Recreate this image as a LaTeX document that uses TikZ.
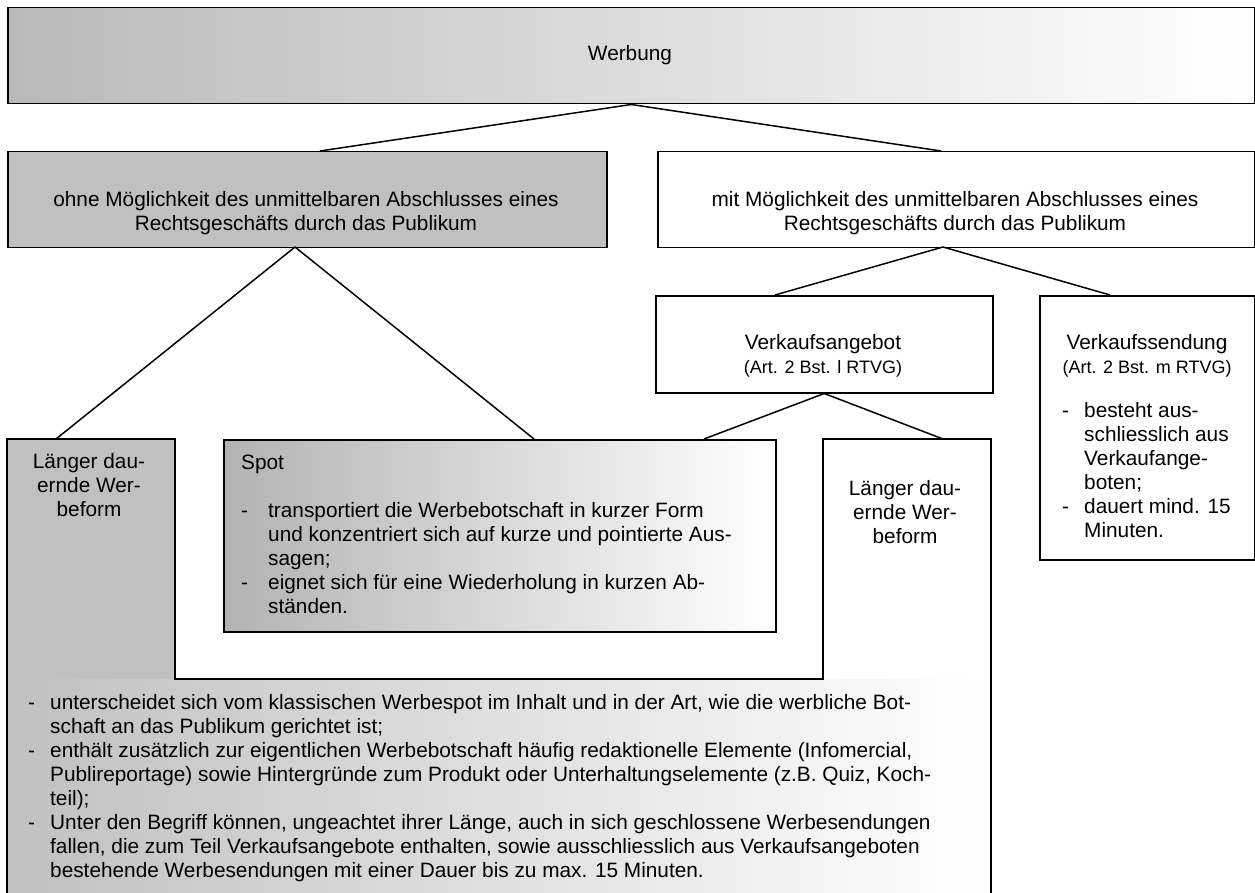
\documentclass[tikz,border=0pt]{standalone}
\usepackage{fontspec}
\setmainfont{Liberation Sans}
\definecolor{boxgray}{RGB}{192,192,192}
\begin{document}
\begin{tikzpicture}[x=1pt,y=-1pt,
  box/.style={draw,line width=1.5pt,inner sep=0pt,anchor=north west},
  con/.style={line width=1.5pt},
  txt/.style={inner sep=0pt,align=center,font=\fontsize{20.8}{24}\selectfont},
  lst/.style={inner sep=0pt,align=left,anchor=north west,font=\fontsize{20.8}{24}\selectfont}]
\useasboundingbox (0,0) rectangle (1255,893);
\node[box,minimum width=1247pt,minimum height=96pt,left color=gray!55,right color=white] (werbung) at (7,7) {};
\node[box,minimum width=599pt,minimum height=96pt,fill=boxgray] (ohne) at (7,151) {};
\node[box,minimum width=597pt,minimum height=96pt] (mit) at (657,151) {};
\node[box,minimum width=337pt,minimum height=97pt] (angebot) at (655,295) {};
\node[box,minimum width=215pt,minimum height=264pt] (sendung) at (1039,295) {};
\fill[boxgray] (7,439) rectangle (175,679);
\shade[left color=boxgray,right color=white] (7,679) rectangle (991,900);
\draw[con] (7,900) -- (7,439) -- (175,439) -- (175,679) -- (823,679) -- (823,439) -- (991,439) -- (991,900);
\node[box,minimum width=552pt,minimum height=192pt,left color=gray!60,right color=white] (spot) at (223,439) {};
\coordinate (ohneIn) at (320,151);
\coordinate (mitIn) at (941,151);
\coordinate (ohneOut) at (295,247);
\coordinate (mitOut) at (943,247);
\coordinate (langA) at (56,439);
\coordinate (spotA) at (534,439);
\coordinate (spotB) at (704,439);
\coordinate (langB) at (943,439);
\coordinate (angebotIn) at (775,295);
\coordinate (sendungIn) at (1110,295);
\draw[con] (werbung.south) -- (ohneIn);
\draw[con] (werbung.south) -- (mitIn);
\draw[con] (ohneOut) -- (langA);
\draw[con] (ohneOut) -- (spotA);
\draw[con] (mitOut) -- (angebotIn);
\draw[con] (mitOut) -- (sendungIn);
\draw[con] (angebot.south) -- (spotB);
\draw[con] (angebot.south) -- (langB);
\node[txt] (t0) at (630,55) {Werbung};
\node[txt] (t1) at (306,213) {ohne Möglichkeit des unmittelbaren Abschlusses eines\\Rechtsgeschäfts durch das Publikum};
\node[txt] (t2) at (955,213) {mit Möglichkeit des unmittelbaren Abschlusses eines\\Rechtsgeschäfts durch das Publikum};
\node[txt] (t3) at (823,356) {Verkaufsangebot\\{\fontsize{18}{20}\selectfont (Art. 2 Bst. l RTVG)}};
\node[txt] (t4) at (1147,356) {Verkaufssendung\\{\fontsize{18}{20}\selectfont (Art. 2 Bst. m RTVG)}};
\node[lst] (t5) at (1062,402) {\makebox[22pt][l]{-}besteht aus-\\\hspace*{22pt}schliesslich aus\\\hspace*{22pt}Verkaufange-\\\hspace*{22pt}boten;\\\makebox[22pt][l]{-}dauert mind. 15\\\hspace*{22pt}Minuten.};
\node[txt] (t6) at (89,485) {Länger dau-\\ernde Wer-\\beform};
\node[txt] (t7) at (905,512) {Länger dau-\\ernde Wer-\\beform};
\node[lst] (t8) at (241,455) {Spot\\[24pt]\makebox[27pt][l]{-}transportiert die Werbebotschaft in kurzer Form\\\hspace*{27pt}und konzentriert sich auf kurze und pointierte Aus-\\\hspace*{27pt}sagen;\\\makebox[27pt][l]{-}eignet sich für eine Wiederholung in kurzen Ab-\\\hspace*{27pt}ständen.};
\node[lst] (t9) at (28,694) {\makebox[22pt][l]{-}unterscheidet sich vom klassischen Werbespot im Inhalt und in der Art, wie die werbliche Bot-\\\hspace*{22pt}schaft an das Publikum gerichtet ist;\\\makebox[22pt][l]{-}enthält zusätzlich zur eigentlichen Werbebotschaft häufig redaktionelle Elemente (Infomercial,\\\hspace*{22pt}Publireportage) sowie Hintergründe zum Produkt oder Unterhaltungselemente (z.B. Quiz, Koch-\\\hspace*{22pt}teil);\\\makebox[22pt][l]{-}Unter den Begriff können, ungeachtet ihrer Länge, auch in sich geschlossene Werbesendungen\\\hspace*{22pt}fallen, die zum Teil Verkaufsangebote enthalten, sowie ausschliesslich aus Verkaufsangeboten\\\hspace*{22pt}bestehende Werbesendungen mit einer Dauer bis zu max. 15 Minuten.};
\end{tikzpicture}
\end{document}
